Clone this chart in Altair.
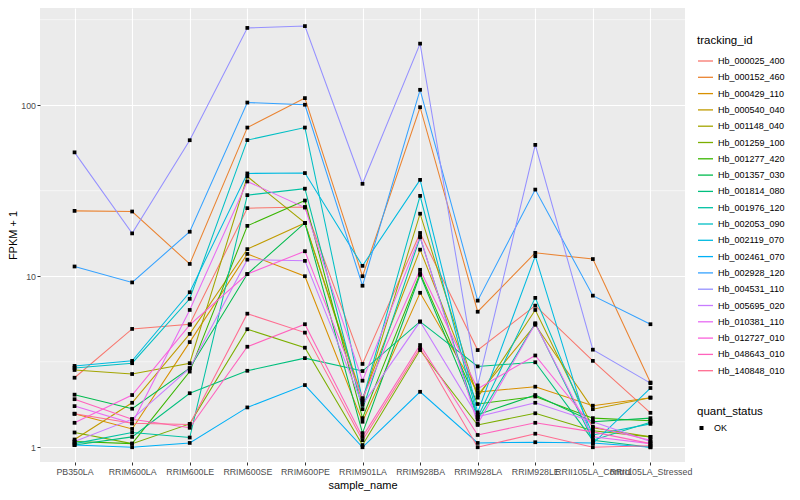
import altair as alt
import pandas as pd

samples = ["PB350LA", "RRIM600LA", "RRIM600LE", "RRIM600SE", "RRIM600PE",
           "RRIM901LA", "RRIM928BA", "RRIM928LA", "RRIM928LE",
           "RRII105LA_Control", "RRII105LA_Stressed"]

tracking_ids = ["Hb_000025_400", "Hb_000152_460", "Hb_000429_110", "Hb_000540_040",
                "Hb_001148_040", "Hb_001259_100", "Hb_001277_420", "Hb_001357_030",
                "Hb_001814_080", "Hb_001976_120", "Hb_002053_090", "Hb_002119_070",
                "Hb_002461_070", "Hb_002928_120", "Hb_004531_110", "Hb_005695_020",
                "Hb_010381_110", "Hb_012727_010", "Hb_048643_010", "Hb_140848_010"]

colors = ["#F8766D", "#EA8331", "#D89000", "#C09B00", "#A3A500", "#7CAE00", "#39B600",
          "#00BB4E", "#00BF7D", "#00C1A3", "#00BFC4", "#00BAE0", "#00B0F6", "#35A2FF",
          "#9590FF", "#C77CFF", "#E76BF3", "#FA62DB", "#FF62BC", "#FF6C91"]

# FPKM + 1 per sample, in the order of `samples`
Hb_000025_400 = [2.55, 4.92, 5.24, 25.0, 25.4, 3.07, 17.9, 3.7, 6.73, 3.2, 1.59]
Hb_000152_460 = [24.1, 23.9, 11.8, 74.0, 110.0, 10.0, 97.3, 6.2, 13.7, 12.6, 2.39]
Hb_000429_110 = [1.57, 1.28, 4.12, 13.5, 10.0, 1.41, 8.0, 2.1, 2.26, 1.75, 1.95]
Hb_000540_040 = [1.11, 1.82, 4.6, 14.4, 20.5, 1.93, 14.3, 2.02, 5.2, 1.67, 1.95]
Hb_001148_040 = [2.83, 2.68, 3.1, 38.3, 20.5, 1.85, 23.2, 1.95, 6.35, 1.3, 1.15]
Hb_001259_100 = [1.22, 1.05, 1.37, 4.9, 3.82, 1.03, 3.7, 1.35, 1.58, 1.25, 1.15]
Hb_001277_420 = [1.08, 1.05, 2.77, 19.7, 27.7, 1.48, 10.4, 1.79, 1.98, 1.48, 1.43]
Hb_001357_030 = [2.03, 1.68, 2.9, 10.3, 20.5, 1.21, 10.2, 1.55, 2.02, 1.41, 1.48]
Hb_001814_080 = [1.03, 1.15, 2.07, 2.8, 3.32, 2.79, 5.43, 2.97, 3.14, 1.1, 1.0]
Hb_001976_120 = [1.05, 1.22, 1.14, 29.8, 32.5, 1.67, 16.9, 1.45, 5.31, 1.1, 1.4]
Hb_002053_090 = [2.91, 3.1, 7.38, 62.5, 74.0, 1.88, 29.5, 1.5, 7.47, 1.18, 1.37]
Hb_002119_070 = [2.99, 3.2, 8.06, 39.9, 40.1, 11.5, 36.6, 1.6, 13.1, 1.05, 2.22]
Hb_002461_070 = [1.03, 1.0, 1.06, 1.71, 2.31, 1.0, 2.11, 1.06, 1.07, 1.06, 1.0]
Hb_002928_120 = [11.4, 9.2, 18.2, 103.6, 100.6, 8.8, 123.0, 7.2, 32.1, 7.7, 5.24]
Hb_004531_110 = [53.0, 17.8, 62.4, 283.0, 290.0, 34.7, 229.0, 2.3, 58.6, 3.72, 2.37]
Hb_005695_020 = [1.08, 1.46, 2.9, 12.5, 12.3, 1.77, 5.43, 1.51, 1.82, 1.41, 1.08]
Hb_010381_110 = [1.74, 1.38, 6.35, 35.8, 25.2, 2.45, 17.1, 1.37, 5.27, 1.15, 1.05]
Hb_012727_010 = [1.39, 2.02, 5.2, 10.3, 14.0, 1.93, 10.9, 2.2, 3.44, 1.32, 1.1]
Hb_048643_010 = [1.91, 1.46, 1.3, 3.87, 5.24, 1.15, 3.96, 1.18, 1.39, 1.23, 1.05]
Hb_140848_010 = [1.57, 1.38, 1.36, 6.04, 4.68, 1.10, 3.8, 1.0, 1.2, 1.0, 1.02]

series_values = [Hb_000025_400, Hb_000152_460, Hb_000429_110, Hb_000540_040,
                 Hb_001148_040, Hb_001259_100, Hb_001277_420, Hb_001357_030,
                 Hb_001814_080, Hb_001976_120, Hb_002053_090, Hb_002119_070,
                 Hb_002461_070, Hb_002928_120, Hb_004531_110, Hb_005695_020,
                 Hb_010381_110, Hb_012727_010, Hb_048643_010, Hb_140848_010]

major_ticks = [1, 10, 100]
minor_grid = [3.1623, 31.623, 316.23]
y_domain = [0.82, 370]

rows = []
for tid, vals in zip(tracking_ids, series_values):
    for i, (s, v) in enumerate(zip(samples, vals)):
        rows.append({"tracking_id": tid, "sample_name": s, "sample_order": i,
                     "fpkm1": v, "quant_status": "OK"})
df = pd.DataFrame(rows)
minor_df = pd.DataFrame({"fpkm1": minor_grid})

FONT = "Liberation Sans"

x_enc = alt.X("sample_name:N", sort=samples,
              scale=alt.Scale(type="point", padding=0.6),
              axis=alt.Axis(title="sample_name", labelAngle=0, labelOverlap=False,
                            labelLimit=0, grid=True, gridColor="white", gridWidth=1.1,
                            ticks=True, tickColor="#333333", tickSize=3, tickWidth=1,
                            domain=False, labelColor="#4D4D4D", labelFontSize=8.8,
                            labelPadding=2, titleFontSize=11, titleFontWeight="normal",
                            titleColor="black", titlePadding=4, labelFont=FONT, titleFont=FONT))

y_axis = alt.Axis(title="FPKM + 1", values=major_ticks, format="d", grid=True,
                  gridColor="white", gridWidth=1.1, ticks=True, tickColor="#333333",
                  tickSize=3, tickWidth=1, domain=False, labelColor="#4D4D4D",
                  labelFontSize=8.8, labelPadding=1.5, titleFontSize=11,
                  titleFontWeight="normal", titleColor="black", titlePadding=2,
                  labelFont=FONT, titleFont=FONT)
y_scale = alt.Scale(type="log", domain=y_domain, nice=False)

minor = alt.Chart(minor_df).mark_rule(color="white", strokeWidth=0.55).encode(
    y=alt.Y("fpkm1:Q", scale=y_scale, axis=y_axis)
)

lines = alt.Chart(df).mark_line(strokeWidth=1.05).encode(
    x=x_enc,
    y=alt.Y("fpkm1:Q", scale=y_scale, axis=y_axis),
    color=alt.Color("tracking_id:N",
                    scale=alt.Scale(domain=tracking_ids, range=colors),
                    legend=alt.Legend(title="tracking_id", orient="none", legendX=657,
                                      legendY=27, symbolType="stroke", symbolSize=225,
                                      symbolStrokeWidth=1.3, rowPadding=2.3,
                                      labelFontSize=9, labelColor="black", labelFont=FONT,
                                      titleFont=FONT, titleFontSize=11.5,
                                      titleFontWeight="normal", titlePadding=6,
                                      labelOffset=4)),
    order=alt.Order("sample_order:Q"),
)

points = alt.Chart(df).mark_point(filled=True, color="black", size=14, opacity=1).encode(
    x=x_enc,
    y=alt.Y("fpkm1:Q", scale=y_scale, axis=y_axis),
    shape=alt.Shape("quant_status:N", scale=alt.Scale(domain=["OK"], range=["square"]),
                    legend=alt.Legend(title="quant_status", orient="none", legendX=657,
                                      legendY=398, symbolSize=16, symbolFillColor="black",
                                      symbolStrokeColor="black", labelFontSize=9,
                                      labelColor="black", labelFont=FONT, titleFont=FONT,
                                      titleFontSize=11.5, titleFontWeight="normal",
                                      titlePadding=6, labelOffset=8)),
)

chart = alt.layer(minor, lines, points).properties(
    width=645, height=454,
    autosize=alt.AutoSizeParams(type="none"),
    padding={"left": 32, "top": 0, "right": 107, "bottom": 30},
    background="white",
).configure_view(fill="#EBEBEB", stroke=None)

chart.save("out.html", embed_options={"renderer": "svg", "actions": False})
